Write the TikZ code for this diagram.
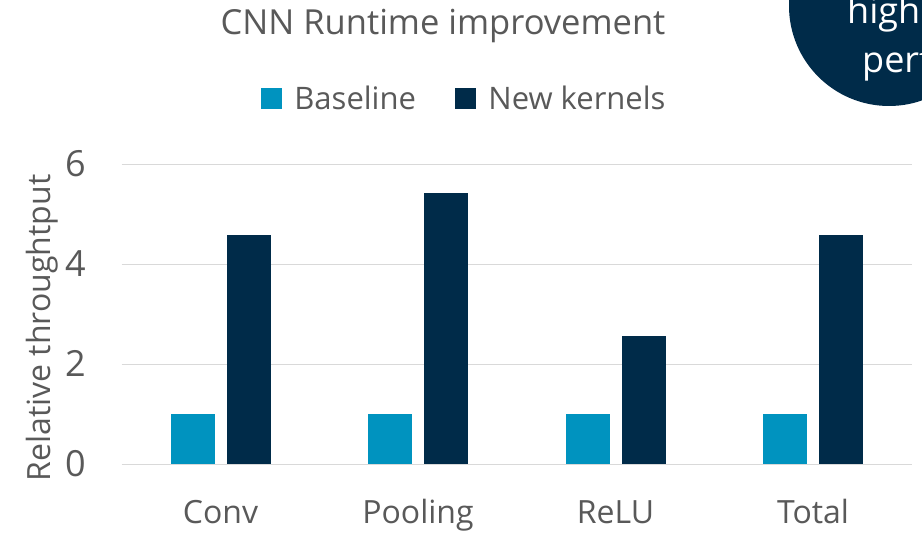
\documentclass[tikz,border=0pt]{standalone}
\usepackage{fontspec}
\setmainfont{Open Sans}
\usepackage{tikz}
\usetikzlibrary{positioning}

\definecolor{basecol}{HTML}{0093BF}
\definecolor{newcol}{HTML}{002B49}
\definecolor{gridcol}{HTML}{D9D9D9}
\definecolor{textcol}{HTML}{595959}

\begin{document}
\begin{tikzpicture}[
  x=1pt, y=-1pt,
  lbl/.style={text=textcol, inner sep=0pt, font=\fontsize{32}{38}\selectfont},
  keytxt/.style={lbl, font=\fontsize{31}{36}\selectfont, anchor=base west},
  key/.style={inner sep=0pt, minimum size=21pt},
  bar/.style={inner sep=0pt, minimum width=44pt, anchor=south},
  gridln/.style={draw=gridcol, line width=1.5pt},
  badgetxt/.style={text=white, inner sep=0pt, anchor=base west, font=\fontsize{36}{42}\selectfont}
]
\clip (0,0) rectangle (922,534);
\fill[white] (0,0) rectangle (922,534);

% title and legend
\node[lbl, anchor=base, font=\fontsize{34.5}{40}\selectfont] (title) at (443,35) {CNN Runtime improvement};
\node[key, fill=basecol] (keybase) at (271.5,98.5) {};
\node[keytxt] (txtbase) at ([xshift=12pt]keybase.south east) {Baseline};
\node[key, fill=newcol] (keynew) at (465.5,98.5) {};
\node[keytxt] (txtnew) at ([xshift=12pt]keynew.south east) {New kernels};

% axis
\foreach \v in {0,2,4,6} {
  \draw[gridln] (121.7,{464.5-50*\v}) -- (911.7,{464.5-50*\v});
  \node[lbl, anchor=base east, font=\fontsize{36}{42}\selectfont] (tick\v) at (86,{477-50*\v}) {\v};
}
\node[lbl, rotate=90, anchor=base] (ytitle) at (50,328) {Relative throughtput};

% bars
\foreach \cat/\cx/\nv [count=\i] in {Conv/220.5/4.58, Pooling/418/5.42, ReLU/615.5/2.57, Total/813/4.58} {
  \node[bar, fill=basecol, minimum height=50pt] (base\i) at (\cx-28,464.5) {};
  \node[bar, fill=newcol, minimum height={\nv*50pt}] (new\i) at (\cx+28,464.5) {};
  \node[lbl, anchor=base] (cat\i) at (\cx,524) {\cat};
}

% badge, cut by the edge
\node[circle, fill=newcol, minimum size=200pt, inner sep=0pt] (badge) at (889,6) {};
\node[badgetxt] (badge1) at (847,24) {higher};
\node[badgetxt] (badge2) at (862,73) {performance};
\end{tikzpicture}
\end{document}
